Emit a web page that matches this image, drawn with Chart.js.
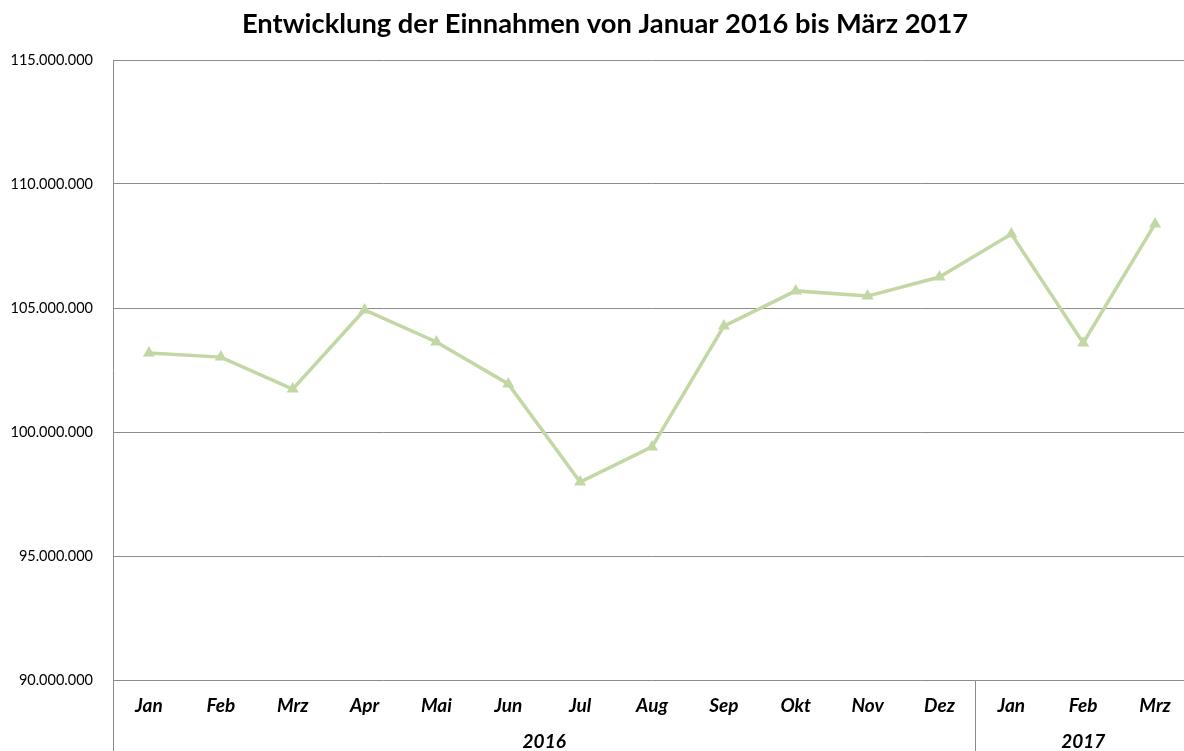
<!DOCTYPE html>
<html>
<head>
<meta charset="utf-8">
<script src="https://cdn.jsdelivr.net/npm/chart.js@4.4.0/dist/chart.umd.min.js"></script>
<style>
  html, body { margin: 0; padding: 0; background: #fff; overflow: hidden; }
  #wrap { width: 1184px; height: 751px; position: relative; overflow: hidden; }
  #c { position: absolute; left: 0; top: 0; }
</style>
</head>
<body>
<div id="wrap"><canvas id="c" width="1191" height="751"></canvas></div>
<script>
const titleText = "Entwicklung der Einnahmen von Januar 2016 bis März 2017";
const months = ["Jan","Feb","Mrz","Apr","Mai","Jun","Jul","Aug","Sep","Okt","Nov","Dez","Jan","Feb","Mrz"];
const years = ["2016","2017"];
const monthsPerYear = [12, 3];
const einnahmen = [103190000, 103020000, 101730000, 104920000, 103630000, 101940000, 97980000, 99400000, 104270000, 105690000, 105480000, 106250000, 107980000, 103590000, 108390000];
const yMin = 90000000, yMax = 115000000, yStep = 5000000;

const FONT = "Lato, 'Open Sans', sans-serif";
const GRID = "#8c8c8c";
const LINE = "#c3d7a5";

const extras = {
  id: 'extras',
  afterDraw(chart) {
    const ctx = chart.ctx;
    const area = chart.chartArea;
    const x = chart.scales.x;
    const H = chart.height;
    ctx.save();
    // title
    ctx.fillStyle = '#000';
    ctx.font = "bold 27.3px " + FONT;
    ctx.textAlign = 'center';
    ctx.textBaseline = 'alphabetic';
    ctx.fillText(titleText, 605, 33);
    // separators and year labels
    ctx.textBaseline = 'middle';
    ctx.strokeStyle = GRID;
    ctx.lineWidth = 1;
    const half = (x.getPixelForValue(1) - x.getPixelForValue(0)) / 2;
    let start = 0;
    ctx.font = "bold italic 19px " + FONT;
    monthsPerYear.forEach((n, i) => {
      const left = x.getPixelForValue(start) - half;
      const right = x.getPixelForValue(start + n - 1) + half;
      ctx.beginPath();
      const lx = Math.round(left) + 0.5;
      ctx.moveTo(lx, area.bottom);
      ctx.lineTo(lx, H);
      ctx.stroke();
      ctx.fillText(years[i], (left + right) / 2, 742);
      start += n;
    });
    ctx.restore();
  }
};

new Chart(document.getElementById('c'), {
  type: 'line',
  data: {
    labels: months,
    datasets: [{
      data: einnahmen,
      borderColor: LINE,
      backgroundColor: LINE,
      borderWidth: 3.5,
      pointStyle: 'triangle',
      pointRadius: 7,
      pointBorderWidth: 0,
      pointBackgroundColor: LINE,
      tension: 0
    }]
  },
  options: {
    responsive: false,
    animation: false,
    layout: { autoPadding: false, padding: { top: 60, right: 0, bottom: 0, left: 0 } },
    plugins: { legend: { display: false }, title: { display: false }, tooltip: { enabled: false } },
    scales: {
      x: {
        type: 'category',
        offset: true,
        grid: { display: false, drawTicks: false },
        border: { display: false },
        ticks: { color: '#000', font: { family: FONT, size: 19, weight: 'bold', style: 'italic' }, padding: 14, maxRotation: 0, autoSkip: false },
        afterFit(scale) { scale.height = 71; scale.paddingLeft = 0; scale.paddingRight = 0; }
      },
      y: {
        min: yMin, max: yMax,
        grid: { color: GRID, drawTicks: false, lineWidth: 1 },
        border: { display: true, color: GRID, width: 1 },
        ticks: {
          stepSize: yStep, color: '#000', padding: 20,
          font: { family: FONT, size: 14.5 },
          callback: v => v.toLocaleString('de-DE')
        },
        afterFit(scale) { scale.width = 113; }
      }
    }
  },
  plugins: [extras]
});
</script>
</body>
</html>
